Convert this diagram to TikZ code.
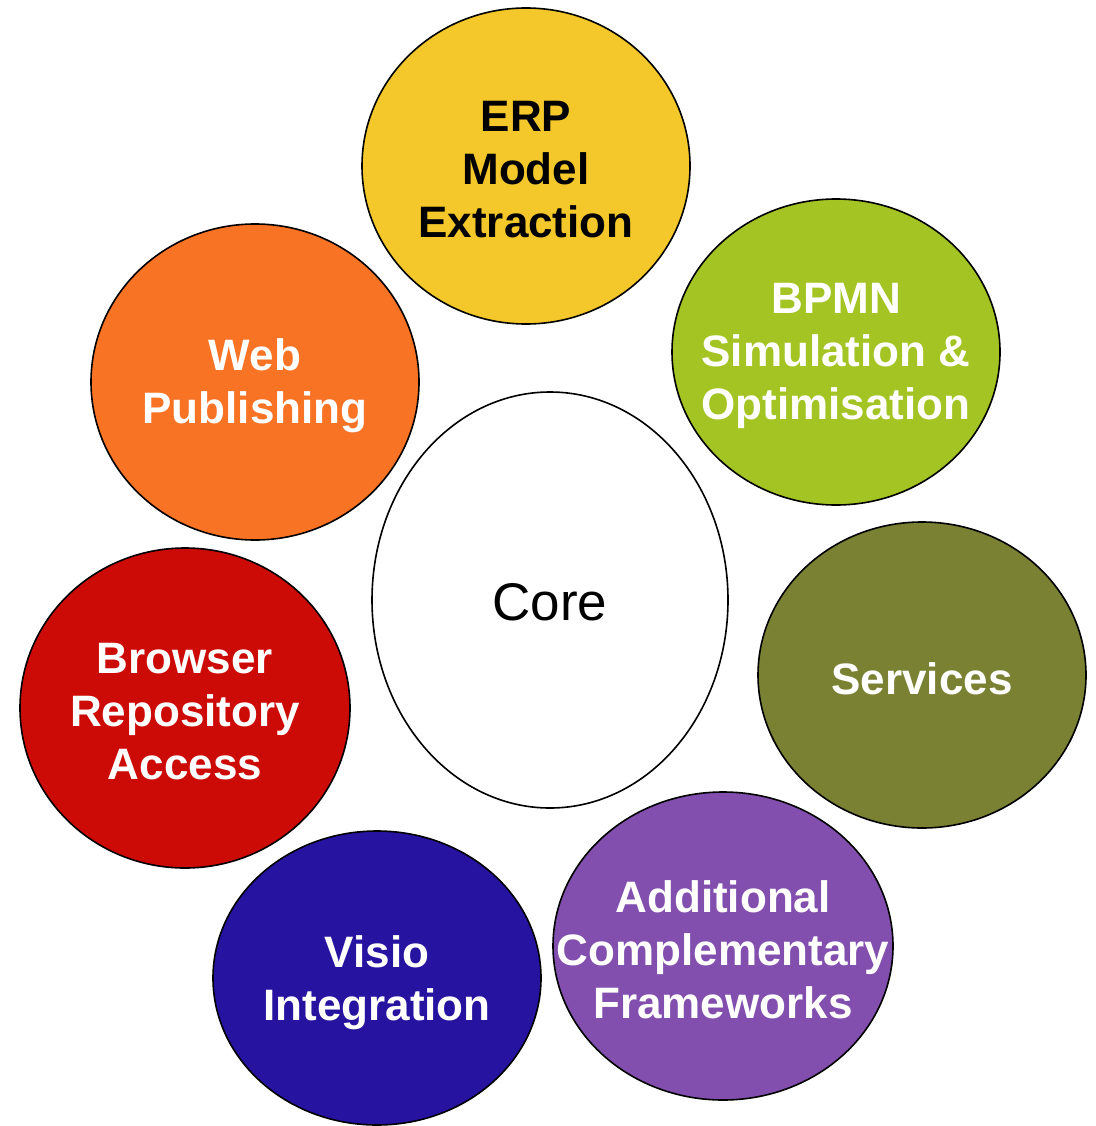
\documentclass[tikz,border=0pt]{standalone}
\usepackage{fontspec}
\setmainfont{Liberation Sans}
\begin{document}
\begin{tikzpicture}[x=1pt,y=-1pt,
  blob/.style={draw=black,line width=1.6pt},
  lbl/.style={align=center,font=\fontsize{44}{53}\selectfont\bfseries,text=white,inner sep=0pt}]
\useasboundingbox (0,0) rectangle (1095,1126);
\definecolor{cerp}{HTML}{F4C82A}
\definecolor{cbpmn}{HTML}{A3C423}
\definecolor{cserv}{HTML}{7A8133}
\definecolor{cadd}{HTML}{824FAE}
\definecolor{cvisio}{HTML}{2614A1}
\definecolor{cbrow}{HTML}{CC0A06}
\definecolor{cweb}{HTML}{F97325}
\draw[blob,fill=white] (550,600) ellipse (178 and 208);
\draw[blob,fill=cerp] (526,166) ellipse (164 and 158);
\draw[blob,fill=cbpmn] (836,352) ellipse (164 and 153);
\draw[blob,fill=cserv] (922,675) ellipse (164 and 153);
\draw[blob,fill=cadd] (723,946) ellipse (170 and 154);
\draw[blob,fill=cvisio] (377,978) ellipse (164 and 147);
\draw[blob,fill=cbrow] (185,708) ellipse (165 and 160);
\draw[blob,fill=cweb] (255,382) ellipse (164 and 158);
\node[inner sep=0pt,font=\fontsize{53}{60}\selectfont] (core) at (550,602) {Core};
\node[lbl,text=black] (erp) at (526,170) {ERP\\Model\\Extraction};
\node[lbl] (bpmn) at (836,356) {BPMN\\Simulation \&\\Optimisation};
\node[lbl] (serv) at (922,679) {Services};
\node[lbl] (add) at (723,950) {Additional\\Complementary\\Frameworks};
\node[lbl] (visio) at (377,983) {Visio\\Integration};
\node[lbl] (brow) at (185,712) {Browser\\Repository\\Access};
\node[lbl] (web) at (255,386) {Web\\Publishing};
\end{tikzpicture}
\end{document}
